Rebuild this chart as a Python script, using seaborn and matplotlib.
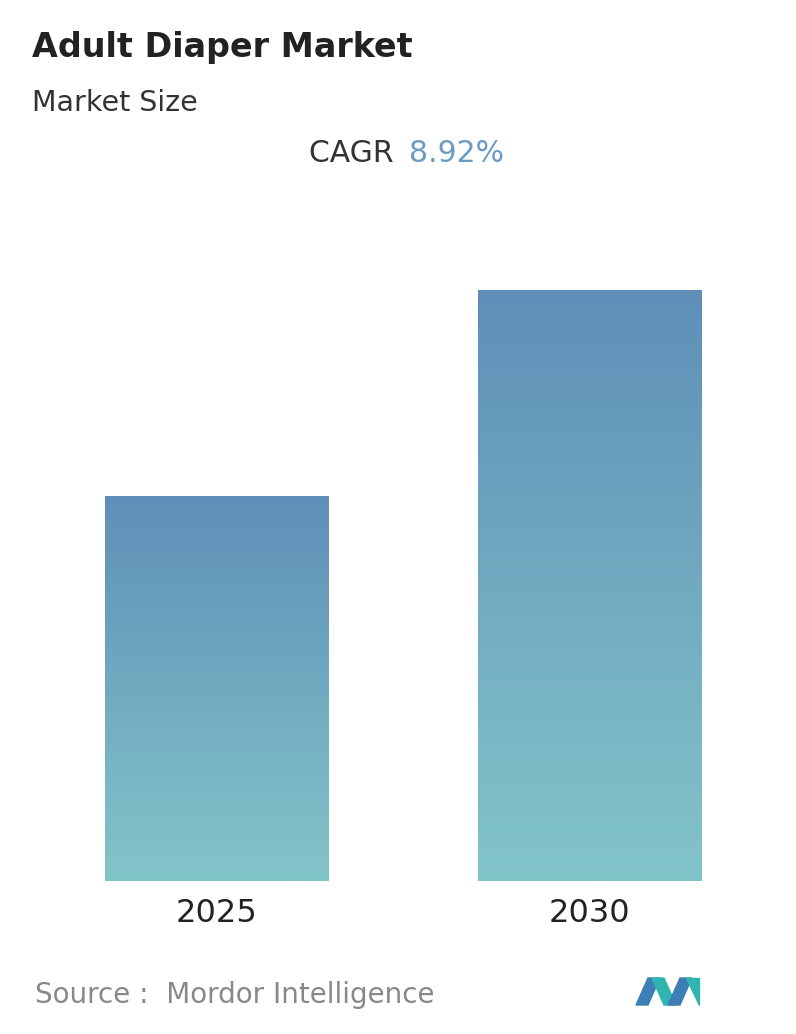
import matplotlib
matplotlib.use("Agg")
import matplotlib.pyplot as plt
import seaborn as sns
import numpy as np
import pandas as pd
from matplotlib.colors import LinearSegmentedColormap
from matplotlib.patches import Polygon

years = ["2025", "2030"]
values = [1.0, 1.534]

df = pd.DataFrame({"year": years, "value": values})
fig = plt.figure(figsize=(7.96, 10.34), dpi=100)
H = 1034
ax = fig.add_axes([30/796, (H-881)/H, 746/796, (881-200)/H])
sns.barplot(data=df, x="year", y="value", ax=ax, width=0.598, color="#6a9bc0", saturation=1)
cmap = LinearSegmentedColormap.from_list("g", ["#82c5c9", "#5f8fb8"])
grad = np.linspace(0, 1, 256).reshape(-1, 1)
for p in ax.patches:
    x0, y0 = p.get_x(), p.get_y()
    w, h = p.get_width(), p.get_height()
    im = ax.imshow(grad, extent=[x0, x0+w, y0, y0+h], origin="lower", cmap=cmap, aspect="auto", zorder=p.get_zorder()+0.1)
    im.set_clip_path(p)
ax.set_xlim(-0.5, 1.5)
ax.set_ylim(0, 1.534*681/591)
for s in ax.spines.values():
    s.set_visible(False)
ax.set_yticks([])
ax.set_xlabel(""); ax.set_ylabel("")
ax.tick_params(axis="x", length=0, labelsize=23, pad=12, labelcolor="#222222")

fig.text(32/796, 1-47/H, "Adult Diaper Market", fontsize=24, fontweight="bold", color="#222222", va="center")
fig.text(32/796, 1-103/H, "Market Size", fontsize=20.5, color="#333333", va="center")
fig.text(403/796, 1-153/H, "CAGR ", fontsize=21.5, color="#333333", va="center", ha="right")
fig.text(409/796, 1-153/H, "8.92%", fontsize=21.5, color="#6a9bc3", va="center", ha="left")
fig.text(35/796, 1-995/H, "Source :  Mordor Intelligence", fontsize=20, color="#888888", va="center")

def px(x, y):
    return (x/796, 1-y/H)
logo = [
    ([(636,1005),(648,978),(660,978),(648,1005)], "#3d7fb5"),
    ([(652,978),(664,978),(676,1005),(664,1005)], "#2fb5b0"),
    ([(668,1005),(680,978),(692,978),(680,1005)], "#3d7fb5"),
    ([(686,978),(699,978),(699,1005)], "#2fb5b0"),
]
for pts, c in logo:
    fig.add_artist(Polygon([px(*q) for q in pts], closed=True, color=c, transform=fig.transFigure))

fig.savefig("out.png", dpi=100, facecolor="white")
